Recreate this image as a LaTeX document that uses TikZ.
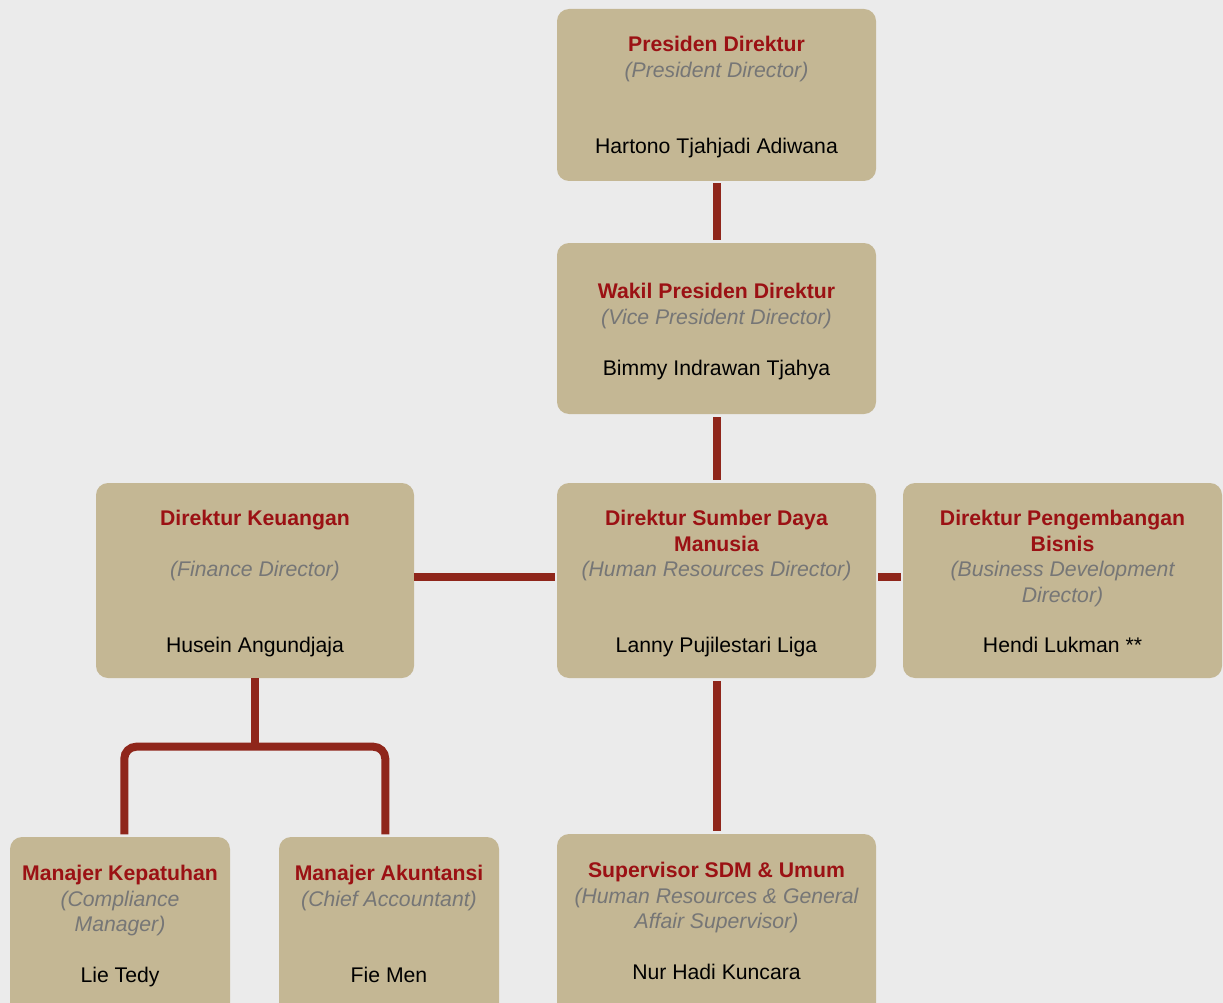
\documentclass[tikz,border=0pt]{standalone}
\usepackage{fontspec}
\setmainfont{Liberation Sans}
\definecolor{pagebg}{RGB}{235,235,235}
\definecolor{boxtan}{RGB}{196,183,148}
\definecolor{titlered}{RGB}{155,17,20}
\definecolor{rolegray}{RGB}{118,118,118}
\definecolor{linkred}{RGB}{143,38,27}
\begin{document}
\begin{tikzpicture}[x=1pt,y=-1pt,
  box/.style={rectangle, rounded corners=12pt, fill=boxtan, inner sep=0pt},
  txt/.style={anchor=base, inner sep=0pt, font=\fontsize{21.2}{26}\selectfont},
  title/.style={txt, text=titlered, font=\bfseries\fontsize{21.2}{26}\selectfont},
  role/.style={txt, text=rolegray, font=\itshape\fontsize{21.2}{26}\selectfont},
  person/.style={txt, text=black},
  conn/.style={draw=linkred, line width=8pt}]
\useasboundingbox (0,0) rectangle (1223,1003);
\clip (0,0) rectangle (1223,1003);
\fill[pagebg] (0,0) rectangle (1223,1003);

% boxes
\node[box, minimum width=319pt, minimum height=172pt] (p) at (716.5,95) {};
\node[box, minimum width=319pt, minimum height=171pt] (w) at (716.5,328.5) {};
\node[box, minimum width=319pt, minimum height=195pt] (h) at (716.5,580.5) {};
\node[box, minimum width=318pt, minimum height=195pt] (f) at (255,580.5) {};
\node[box, minimum width=319pt, minimum height=195pt] (b) at (1062.5,580.5) {};
\node[box, minimum width=220pt, minimum height=183pt] (cm) at (120,928.5) {};
\node[box, minimum width=220pt, minimum height=183pt] (ca) at (389,928.5) {};
\node[box, minimum width=319pt, minimum height=186pt] (s) at (716.5,927) {};

% President Director
\node[title]  (p1) at (716.5,51.5) {Presiden Direktur};
\node[role]   (p2) at (716.5,77.5) {(President Director)};
\node[person] (p3) at (716.5,154) {Hartono Tjahjadi Adiwana};

% Vice President Director
\node[title]  (w1) at (716.5,298) {Wakil Presiden Direktur};
\node[role]   (w2) at (716.5,324) {(Vice President Director)};
\node[person] (w3) at (716.5,375) {Bimmy Indrawan Tjahya};

% Human Resources Director
\node[title]  (h1) at (716.5,525) {Direktur Sumber Daya};
\node[title]  (h2) at (716.5,551) {Manusia};
\node[role]   (h3) at (716.5,576) {(Human Resources Director)};
\node[person] (h4) at (716.5,652) {Lanny Pujilestari Liga};

% Finance Director
\node[title]  (f1) at (255,525) {Direktur Keuangan};
\node[role]   (f2) at (255,576) {(Finance Director)};
\node[person] (f3) at (255,652) {Husein Angundjaja};

% Business Development Director
\node[title]  (b1) at (1062.5,525) {Direktur Pengembangan};
\node[title]  (b2) at (1062.5,551) {Bisnis};
\node[role]   (b3) at (1062.5,576) {(Business Development};
\node[role]   (b4) at (1062.5,602) {Director)};
\node[person] (b5) at (1062.5,652) {Hendi Lukman **};

% Compliance Manager
\node[title]  (cm1) at (120,880) {Manajer Kepatuhan};
\node[role]   (cm2) at (120,906) {(Compliance};
\node[role]   (cm3) at (120,931) {Manager)};
\node[person] (cm4) at (120,982) {Lie Tedy};

% Chief Accountant
\node[title]  (ca1) at (389,880) {Manajer Akuntansi};
\node[role]   (ca2) at (389,906) {(Chief Accountant)};
\node[person] (ca3) at (389,982) {Fie Men};

% HR & General Affair Supervisor
\node[title]  (s1) at (716.5,877) {Supervisor SDM \& Umum};
\node[role]   (s2) at (716.5,903) {(Human Resources \& General};
\node[role]   (s3) at (716.5,928) {Affair Supervisor)};
\node[person] (s4) at (716.5,979) {Nur Hadi Kuncara};

% connectors
\draw[conn, shorten <=2pt, shorten >=3pt] (p) -- (w);
\draw[conn, shorten <=3pt, shorten >=3pt] (w) -- (h);
\draw[conn, shorten <=3pt, shorten >=3pt] (h) -- (s);
\draw[conn, shorten >=2pt] ([yshift=4pt]f.east) -- ([yshift=4pt]h.west);
\draw[conn, shorten <=2pt, shorten >=2pt] ([yshift=4pt]h.east) -- ([yshift=4pt]b.west);

% finance branch
\coordinate (fork) at (255,746.7);
\coordinate (cmtop) at (124.3,834.3);
\coordinate (catop) at (385.3,834.3);
\draw[conn] (f.south) -- (fork);
\draw[conn, rounded corners=12pt] (cmtop) -- (cmtop |- fork) -- (catop |- fork) -- (catop);
\end{tikzpicture}
\end{document}
